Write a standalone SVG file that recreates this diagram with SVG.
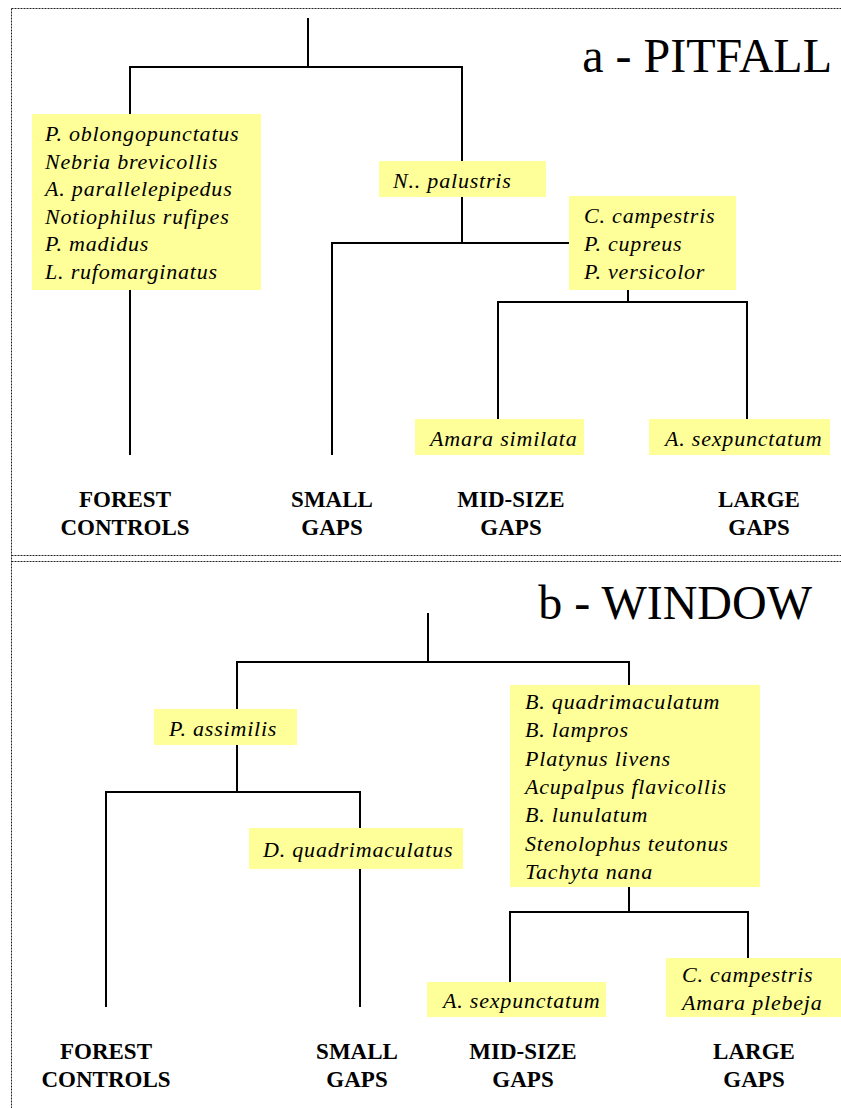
<svg xmlns="http://www.w3.org/2000/svg" width="841" height="1108" viewBox="0 0 841 1108">
<style>
.bg{fill:#ffffff}
.frame{stroke:#222;stroke-width:1;stroke-dasharray:2,1;fill:none}
.box{fill:#ffff99}
.sp{font-family:"Liberation Serif",serif;font-style:italic;font-size:22px;letter-spacing:0.8px;fill:#000}
.lab{font-family:"Liberation Serif",serif;font-weight:bold;font-size:23px;fill:#000;text-anchor:middle}
.title{font-family:"Liberation Serif",serif;font-size:48px;fill:#000;text-anchor:end}
.edge{stroke:#000;stroke-width:2;fill:none;stroke-linecap:square}
</style>
<rect class="bg" x="0" y="0" width="841" height="1108"/>
<g id="frame">
<path class="frame" d="M11.5,8.5 H841 M11.5,8.5 V1108 M11.5,555.5 H841 M11.5,561.5 H841"/>
</g>
<g id="connectors">
<path class="edge" d="M308,19 V67 M130,67 H462 M130,67 V114 M130,290 V454 M462,67 V161 M462,197 V243 M332,243 H569 M332,243 V454 M628,290 V302 M498,302 H747 M498,302 V419 M747,302 V419"/>
<path class="edge" d="M428,614 V662 M237,662 H629 M237,662 V709 M237,745 V792 M106,792 H360 M106,792 V1006 M360,792 V828 M360,869 V1006 M629,662 V685 M629,887 V912 M510,912 H748 M510,912 V982 M748,912 V958"/>
</g>
<g id="title-a"><text class="title" x="832" y="72">a - PITFALL</text></g>
<g id="title-b"><text class="title" x="812" y="619">b - WINDOW</text></g>
<g id="a-forest-species">
<rect class="box" x="32" y="114" width="229" height="176"/>
<text class="sp" x="45" y="141">P. oblongopunctatus</text>
<text class="sp" x="45" y="168.6">Nebria brevicollis</text>
<text class="sp" x="45" y="196.2">A. parallelepipedus</text>
<text class="sp" x="45" y="223.8">Notiophilus rufipes</text>
<text class="sp" x="45" y="251.4">P. madidus</text>
<text class="sp" x="45" y="279">L. rufomarginatus</text>
</g>
<g id="a-palustris">
<rect class="box" x="379" y="161" width="167" height="36"/>
<text class="sp" x="393" y="188">N.. palustris</text>
</g>
<g id="a-gaps-species">
<rect class="box" x="569" y="196" width="167" height="94"/>
<text class="sp" x="584" y="223">C. campestris</text>
<text class="sp" x="584" y="251">P. cupreus</text>
<text class="sp" x="584" y="279">P. versicolor</text>
</g>
<g id="a-midsize-species">
<rect class="box" x="415" y="419" width="169" height="36"/>
<text class="sp" x="430" y="446">Amara similata</text>
</g>
<g id="a-large-species">
<rect class="box" x="649" y="419" width="181" height="36"/>
<text class="sp" x="665" y="446">A. sexpunctatum</text>
</g>
<g id="a-forest-label"><text class="lab" x="125" y="507">FOREST</text><text class="lab" x="125" y="535">CONTROLS</text></g>
<g id="a-small-label"><text class="lab" x="332" y="507">SMALL</text><text class="lab" x="332" y="535">GAPS</text></g>
<g id="a-mid-label"><text class="lab" x="511" y="507">MID-SIZE</text><text class="lab" x="511" y="535">GAPS</text></g>
<g id="a-large-label"><text class="lab" x="759" y="507">LARGE</text><text class="lab" x="759" y="535">GAPS</text></g>
<g id="b-assimilis">
<rect class="box" x="154" y="709" width="143" height="36"/>
<text class="sp" x="169" y="736">P. assimilis</text>
</g>
<g id="b-dquad">
<rect class="box" x="249" y="828" width="214" height="41"/>
<text class="sp" x="263" y="857">D. quadrimaculatus</text>
</g>
<g id="b-gaps-species">
<rect class="box" x="510" y="685" width="250" height="202"/>
<text class="sp" x="525" y="709">B. quadrimaculatum</text>
<text class="sp" x="525" y="737.3">B. lampros</text>
<text class="sp" x="525" y="765.7">Platynus livens</text>
<text class="sp" x="525" y="794">Acupalpus flavicollis</text>
<text class="sp" x="525" y="822.3">B. lunulatum</text>
<text class="sp" x="525" y="850.7">Stenolophus teutonus</text>
<text class="sp" x="525" y="879">Tachyta nana</text>
</g>
<g id="b-midsize-species">
<rect class="box" x="427" y="982" width="179" height="35"/>
<text class="sp" x="443" y="1008">A. sexpunctatum</text>
</g>
<g id="b-large-species">
<rect class="box" x="666" y="958" width="175" height="59"/>
<text class="sp" x="682" y="982">C. campestris</text>
<text class="sp" x="682" y="1010">Amara plebeja</text>
</g>
<g id="b-forest-label"><text class="lab" x="106" y="1059">FOREST</text><text class="lab" x="106" y="1087">CONTROLS</text></g>
<g id="b-small-label"><text class="lab" x="357" y="1059">SMALL</text><text class="lab" x="357" y="1087">GAPS</text></g>
<g id="b-mid-label"><text class="lab" x="523" y="1059">MID-SIZE</text><text class="lab" x="523" y="1087">GAPS</text></g>
<g id="b-large-label"><text class="lab" x="754" y="1059">LARGE</text><text class="lab" x="754" y="1087">GAPS</text></g>
</svg>
